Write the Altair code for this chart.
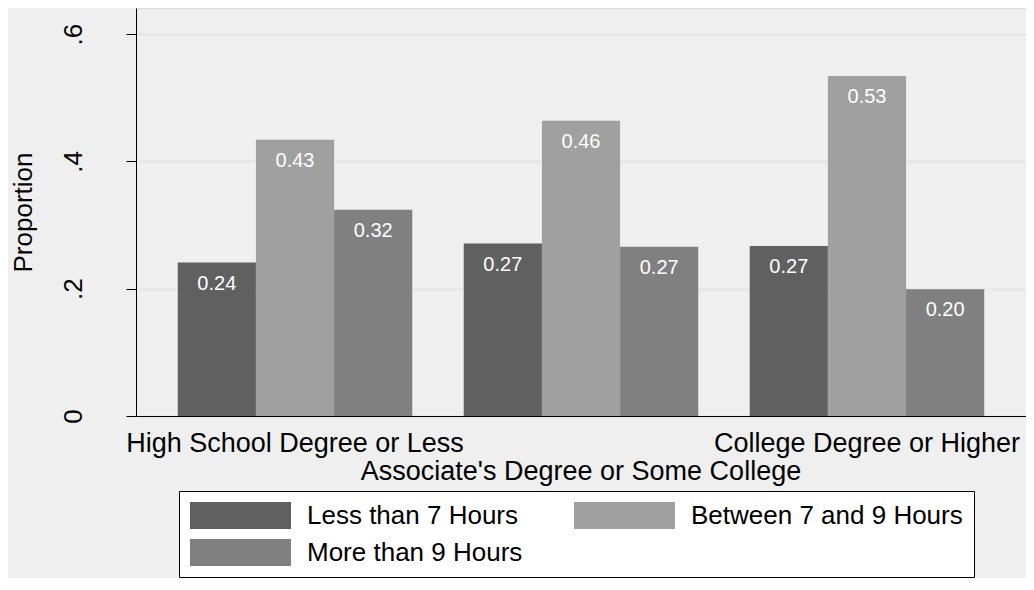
import altair as alt
import pandas as pd

categories = ["High School Degree or Less",
              "Associate's Degree or Some College",
              "College Degree or Higher"]
series = ["Less than 7 Hours", "Between 7 and 9 Hours", "More than 9 Hours"]
less7 = [0.241, 0.271, 0.267]
btw79 = [0.434, 0.464, 0.534]
more9 = [0.324, 0.266, 0.199]
colors = ["#606060", "#a0a0a0", "#808080"]
y_ticks = [0, 0.2, 0.4, 0.6]
# legend lists entries column by column: Less / More in column 1, Between in column 2
legend_order = [series[0], series[2], series[1]]
legend_colors = [colors[0], colors[2], colors[1]]

rows = []
for i, c in enumerate(categories):
    for s, vals in zip(series, [less7, btw79, more9]):
        rows.append({"cat": c, "series": s, "value": vals[i]})
df = pd.DataFrame(rows)

FONT = "Liberation Sans"

x = alt.X(
    "cat:N", sort=categories, title=None,
    scale=alt.Scale(paddingInner=0.18, paddingOuter=0.146),
    axis=alt.Axis(
        labelAngle=0, labelFontSize=27, labelColor="black", labelFont=FONT,
        ticks=False, labelPadding=14, domainColor="black", domainWidth=1,
        labelOverlap=False, labelFlush=False, labelLineHeight=28,
        labelBaseline="top", labelLimit=600, grid=False,
        labelExpr='datum.value == "Associate\'s Degree or Some College" ? ["", datum.value] : datum.value',
    ),
)
xoff = alt.XOffset("series:N", sort=series,
                   scale=alt.Scale(paddingInner=0, paddingOuter=0))
y = alt.Y(
    "value:Q", title="Proportion",
    scale=alt.Scale(domain=[0, 0.641], nice=False, zero=True),
    axis=alt.Axis(
        values=y_ticks,
        labelExpr="datum.value == 0 ? '0' : replace(format(datum.value, '.1f'), '0.', '.')",
        labelAngle=270, labelAlign="center", labelBaseline="bottom",
        labelPadding=40, tickSize=10, tickColor="black", tickWidth=1,
        domainColor="black", domainWidth=1,
        gridColor="#e4e4e4", gridWidth=2,
        labelFontSize=26, labelColor="black", labelFont=FONT,
        titleFontSize=26, titleFontWeight="normal", titleColor="black",
        titleFont=FONT, titlePadding=24,
    ),
)

legend = alt.Legend(
    title=None, orient="none", legendX=43, legendY=483, columns=2,
    symbolType="M-1,-1L6.48,-1L6.48,1L-1,1Z",
    symbolSize=729, symbolStrokeWidth=0, symbolOpacity=1,
    labelFontSize=26, labelColor="black", labelFont=FONT, labelOffset=90,
    labelLimit=500, columnPadding=51, rowPadding=10, padding=11,
    strokeColor="black", fillColor="white",
)

bars = alt.Chart(df).mark_bar().encode(
    x=x, xOffset=xoff, y=y,
    color=alt.Color("series:N",
                    scale=alt.Scale(domain=legend_order, range=legend_colors),
                    legend=legend),
)

labels = alt.Chart(df).mark_text(
    dy=21, baseline="middle", align="center", color="white",
    fontSize=20, font=FONT,
).encode(
    x=x, xOffset=xoff, y=y,
    text=alt.Text("value:Q", format=".2f"),
)

chart = alt.layer(bars, labels).properties(
    width=890, height=408,
    autosize=alt.AutoSizeParams(type="none"),
    padding={"left": 128, "top": 0, "right": 0, "bottom": 162},
    background="#efefef",
).configure_view(fill="white", stroke=None).configure(font=FONT)

chart.save("out.html", embed_options={"renderer": "svg", "actions": False})
